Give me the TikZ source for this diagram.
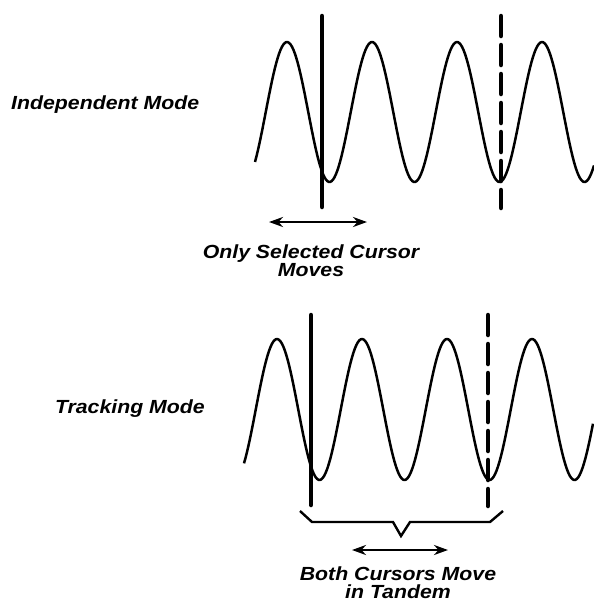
\documentclass[tikz,border=0pt]{standalone}
\usepackage{fontspec}
\newfontfamily\lblfont[FakeStretch=1.12]{Liberation Sans}
\usetikzlibrary{arrows.meta}
\tikzset{
  wave/.style={line width=2.5pt, line join=round},
  cursorsolid/.style={line width=4.5pt, line cap=round},
  cursordash/.style={line width=4.5pt, line cap=round, dash pattern=on 20pt off 9pt},
  movearrow/.style={line width=2.8pt, {Stealth[length=14pt,width=10pt]}-{Stealth[length=14pt,width=10pt]}},
  bracel/.style={line width=2.4pt, line join=miter},
  lbl/.style={inner sep=0pt, font=\lblfont\bfseries\itshape\fontsize{19}{18}\selectfont},
}
\begin{document}
\begin{tikzpicture}[x=1pt, y=-1pt]
\useasboundingbox (0,0) rectangle (594,606);
% ---- Independent mode ----
\node[lbl, anchor=base west] (indep) at (11,109) {Independent Mode};
\draw[wave] plot[domain=255:594, samples=240] (\x, {112-70*cos(4.23529*(\x-287))});
\coordinate (c1t) at (322,16);
\coordinate (c1b) at (322,207);
\coordinate (c2t) at (501,16);
\coordinate (c2b) at (501,208);
\draw[cursorsolid] (c1t) -- (c1b);
\draw[cursordash] (c2t) -- (c2b);
\coordinate (a1l) at (269,222);
\coordinate (a1r) at (367,222);
\draw[movearrow] (a1l) -- (a1r);
\node[lbl, anchor=north, align=center] (only) at (311,245) {Only Selected Cursor\\Moves};
% ---- Tracking mode ----
\node[lbl, anchor=base east] (track) at (205,413) {Tracking Mode};
\draw[wave] plot[domain=244:593, samples=240] (\x, {409.5-70.5*cos(4.23529*(\x-277))});
\coordinate (c3t) at (311,315);
\coordinate (c3b) at (311,505);
\coordinate (c4t) at (488,315);
\coordinate (c4b) at (488,506);
\draw[cursorsolid] (c3t) -- (c3b);
\draw[cursordash] (c4t) -- (c4b);
\coordinate (b1) at (300,511);
\coordinate (b2) at (312,522);
\coordinate (b3) at (393,522);
\coordinate (b4) at (401,536);
\coordinate (b5) at (410,522);
\coordinate (b6) at (490,522);
\coordinate (b7) at (503,511);
\draw[bracel] (b1) -- (b2) -- (b3) -- (b4) -- (b5) -- (b6) -- (b7);
\coordinate (a2l) at (352,550);
\coordinate (a2r) at (448,550);
\draw[movearrow] (a2l) -- (a2r);
\node[lbl, anchor=north, align=center] (both) at (398,567) {Both Cursors Move\\in Tandem};
\end{tikzpicture}
\end{document}
